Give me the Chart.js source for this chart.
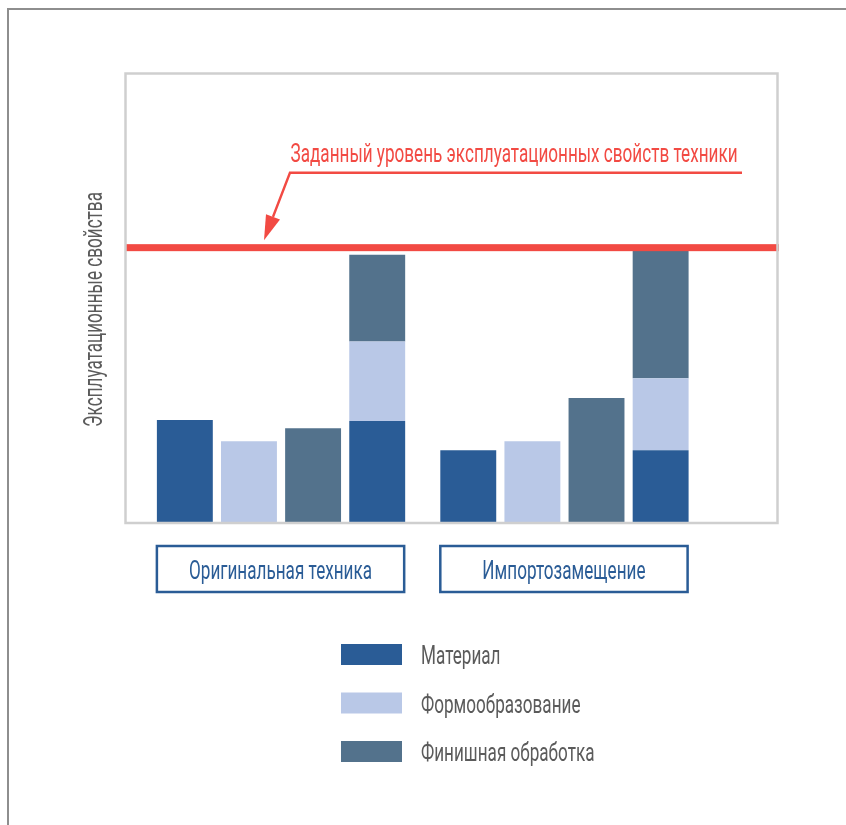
<!DOCTYPE html>
<html>
<head>
<meta charset="utf-8">
<script src="https://cdn.jsdelivr.net/npm/chart.js@4/dist/chart.umd.min.js"></script>
<style>
  html, body { margin: 0; padding: 0; background: #ffffff; }
  #sheet {
    position: absolute; left: 7px; top: 8px; width: 839px; height: 817px;
    border-top: 2px solid #8e8e8e; border-left: 2px solid #8e8e8e; box-sizing: border-box;
  }
  #wrap { position: absolute; left: 0; top: 0; width: 846px; height: 825px; }
</style>
</head>
<body>
<div id="sheet"></div>
<div id="wrap"><canvas id="chart"></canvas></div>
<script>
// Groups of columns
const groups = ['Оригинальная техника', 'Импортозамещение'];
const seriesNames = ['Материал', 'Формообразование', 'Финишная обработка'];

// Individual contributions
const material  = [22.7, 16.0];
const forming   = [18.0, 18.0];
const finishing = [20.9, 27.6];

// Combined column (stacked)
const totalMaterial  = [22.5, 16.0];
const totalForming   = [17.7, 16.0];
const totalFinishing = [19.3, 28.5];

// Required level
const targetLevel = 61.1;
const targetLabel = 'Заданный уровень эксплуатационных свойств техники';
const yTitle = 'Эксплуатационные свойства';

const seriesColors = ['#2a5c96', '#b9c8e7', '#53728c'];
const targetColor = '#f24a43';
const groupColor = '#2a5c96';
const textGray = '#5b5b5b';
const frameColor = '#cfcfcf';
const FONT = '400 25px Roboto';

// Roboto squeezed horizontally to get a condensed face
const SQUEEZE = 0.685;
function squeezedText(ctx, text, x, y, o) {
  ctx.save();
  ctx.font = o.font;
  ctx.fillStyle = o.color;
  ctx.textBaseline = o.baseline || 'alphabetic';
  ctx.textAlign = o.align || 'left';
  ctx.translate(x, y);
  if (o.rotate) ctx.rotate(o.rotate);
  ctx.scale(SQUEEZE, 1);
  ctx.fillText(text, 0, 0);
  ctx.restore();
}

const toPoints = arr => arr.map((v, i) => ({ x: i, y: v }));

const datasets = [
  { label: seriesNames[0], data: toPoints(material),  backgroundColor: seriesColors[0], stack: 'm' },
  { label: seriesNames[1], data: toPoints(forming),   backgroundColor: seriesColors[1], stack: 'f' },
  { label: seriesNames[2], data: toPoints(finishing), backgroundColor: seriesColors[2], stack: 'p' },
  { label: seriesNames[0], data: toPoints(totalMaterial),  backgroundColor: seriesColors[0], stack: 'all' },
  { label: seriesNames[1], data: toPoints(totalForming),   backgroundColor: seriesColors[1], stack: 'all' },
  { label: seriesNames[2], data: toPoints(totalFinishing), backgroundColor: seriesColors[2], stack: 'all' }
];

const decorations = {
  id: 'decorations',
  afterDatasetsDraw(chart) {
    const { ctx, chartArea: a, scales: { y } } = chart;

    // required level line
    const yT = y.getPixelForValue(targetLevel);
    ctx.save();
    ctx.fillStyle = targetColor;
    ctx.fillRect(a.left, yT - 3.5, a.right - a.left, 7);

    // plot frame
    ctx.strokeStyle = frameColor;
    ctx.lineWidth = 2.5;
    ctx.strokeRect(a.left - 0.5, a.top + 0.5, a.right - a.left - 1, a.bottom - a.top + 0.5);

    // callout with arrow
    const tipX = a.left + 138, tipY = yT - 7.5;
    const elbowX = tipX + 26, elbowY = tipY - 67.5;
    const endX = a.left + 616;
    ctx.strokeStyle = targetColor;
    ctx.fillStyle = targetColor;
    ctx.lineWidth = 2.5;
    ctx.beginPath();
    ctx.moveTo(endX, elbowY);
    ctx.lineTo(elbowX, elbowY);
    const dx = tipX - elbowX, dy = tipY - elbowY, len = Math.hypot(dx, dy);
    const ux = dx / len, uy = dy / len;
    const headLen = 25, headHalf = 7.5;
    const bx = tipX - ux * headLen, by = tipY - uy * headLen;
    ctx.lineTo(bx, by);
    ctx.stroke();
    ctx.beginPath();
    ctx.moveTo(tipX, tipY);
    ctx.lineTo(bx - uy * headHalf, by + ux * headHalf);
    ctx.lineTo(bx + uy * headHalf, by - ux * headHalf);
    ctx.closePath();
    ctx.fill();
    ctx.restore();
    squeezedText(ctx, targetLabel, elbowX + 0.5, elbowY - 11, { font: FONT, color: targetColor });

    // axis title
    squeezedText(ctx, yTitle, a.left - 24, (a.top + a.bottom) / 2 + 12,
      { font: FONT, color: textGray, align: 'center', rotate: -Math.PI / 2 });

    // group captions in frames spanning each group of columns
    const first = chart.getDatasetMeta(0).data;
    const last = chart.getDatasetMeta(5).data;
    groups.forEach((g, i) => {
      const l = first[i].x - first[i].width / 2;
      const r = last[i].x + last[i].width / 2 - 1;
      const top = a.bottom + 24, h = 46;
      ctx.save();
      ctx.strokeStyle = groupColor;
      ctx.lineWidth = 2.5;
      ctx.strokeRect(l, top, r - l, h);
      ctx.restore();
      squeezedText(ctx, g, (l + r) / 2, top + 32.5, { font: FONT, color: groupColor, align: 'center' });
    });

    // legend
    const lx = a.left + 215, ly0 = a.bottom + 122;
    seriesNames.forEach((name, i) => {
      const ly = ly0 + i * 48.5;
      ctx.fillStyle = seriesColors[i];
      ctx.fillRect(lx, ly, 61, 21);
      squeezedText(ctx, name, lx + 80, ly + 20, { font: FONT, color: textGray });
    });
  }
};

new Chart(document.getElementById('chart'), {
  type: 'bar',
  data: { datasets },
  plugins: [decorations],
  options: {
    responsive: true,
    maintainAspectRatio: false,
    animation: false,
    layout: { padding: { left: 126, right: 67, top: 73, bottom: 303 } },
    categoryPercentage: 0.905,
    barPercentage: 0.872,
    datasets: { bar: { borderWidth: 0 } },
    plugins: { legend: { display: false }, tooltip: { enabled: false } },
    scales: {
      x: {
        type: 'linear', min: -0.547, max: 1.757, offset: false, stacked: true, display: false,
        afterBuildTicks: s => { s.ticks = groups.map((_, i) => ({ value: i })); }
      },
      y: { min: 0, max: 100, stacked: true, display: false }
    }
  }
});
</script>
</body>
</html>
